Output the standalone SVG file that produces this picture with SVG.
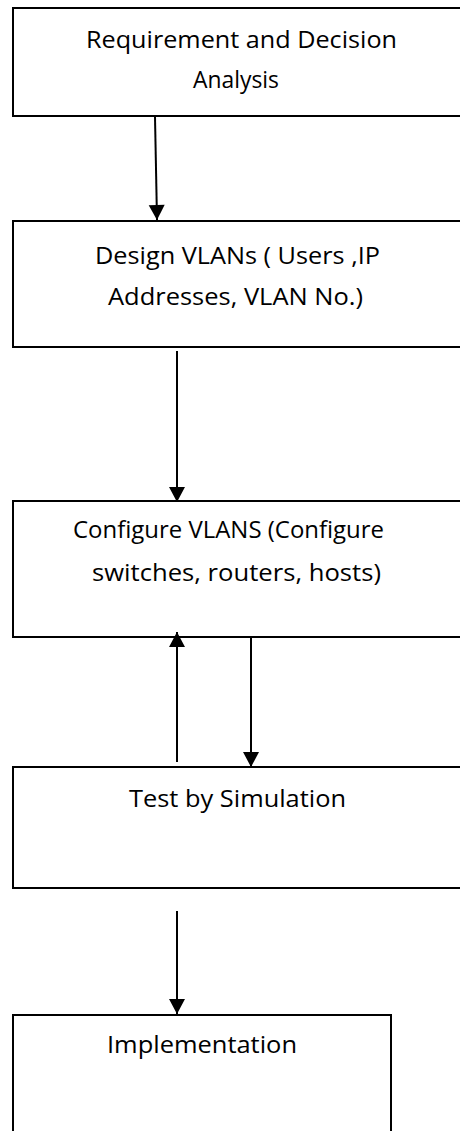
<svg xmlns="http://www.w3.org/2000/svg" width="460" height="1131" viewBox="0 0 460 1131">
<style>
.box{fill:#fff;stroke:#000;stroke-width:2}
.t{font-family:"Open Sans","Liberation Sans",sans-serif;font-size:23px;fill:#000;text-anchor:middle}
.c{stroke:#000;stroke-width:2;fill:none}
</style>
<defs>
<marker id="ah" markerWidth="8" markerHeight="9" refX="7.5" refY="4.5" orient="auto" markerUnits="strokeWidth" overflow="visible">
<path d="M0,0.5 L7.5,4.5 L0,8.5 Z" fill="#000"/>
</marker>
</defs>
<rect width="460" height="1131" fill="#fff"/>
<g id="n1">
<rect class="box" x="13" y="8" width="452" height="108"/>
<text class="t" x="241.5" y="48" textLength="311" lengthAdjust="spacingAndGlyphs">Requirement and Decision</text>
<text class="t" x="236" y="88" textLength="86" lengthAdjust="spacingAndGlyphs">Analysis</text>
</g>
<g id="n2">
<rect class="box" x="13" y="221" width="452" height="126"/>
<text class="t" x="237.5" y="264" textLength="285" lengthAdjust="spacingAndGlyphs">Design VLANs ( Users ,IP</text>
<text class="t" x="235.5" y="305" textLength="255" lengthAdjust="spacingAndGlyphs">Addresses, VLAN No.)</text>
</g>
<g id="n3">
<rect class="box" x="13" y="501" width="452" height="136"/>
<text class="t" x="228.5" y="538" textLength="311" lengthAdjust="spacingAndGlyphs">Configure VLANS (Configure</text>
<text class="t" x="236.5" y="581" textLength="289" lengthAdjust="spacingAndGlyphs">switches, routers, hosts)</text>
</g>
<g id="n4">
<rect class="box" x="13" y="767" width="452" height="121"/>
<text class="t" x="237.5" y="807" textLength="217" lengthAdjust="spacingAndGlyphs">Test by Simulation</text>
</g>
<g id="n5">
<rect class="box" x="13" y="1015" width="378" height="130"/>
<text class="t" x="202" y="1053" textLength="190" lengthAdjust="spacingAndGlyphs">Implementation</text>
</g>
<g id="connectors">
<line class="c" x1="155" y1="117" x2="157" y2="220" marker-end="url(#ah)"/>
<line class="c" x1="177" y1="351" x2="177" y2="502" marker-end="url(#ah)"/>
<line class="c" x1="177" y1="762" x2="177" y2="632" marker-end="url(#ah)"/>
<line class="c" x1="251" y1="638" x2="251" y2="767" marker-end="url(#ah)"/>
<line class="c" x1="177" y1="911" x2="177" y2="1014" marker-end="url(#ah)"/>
</g>
</svg>
